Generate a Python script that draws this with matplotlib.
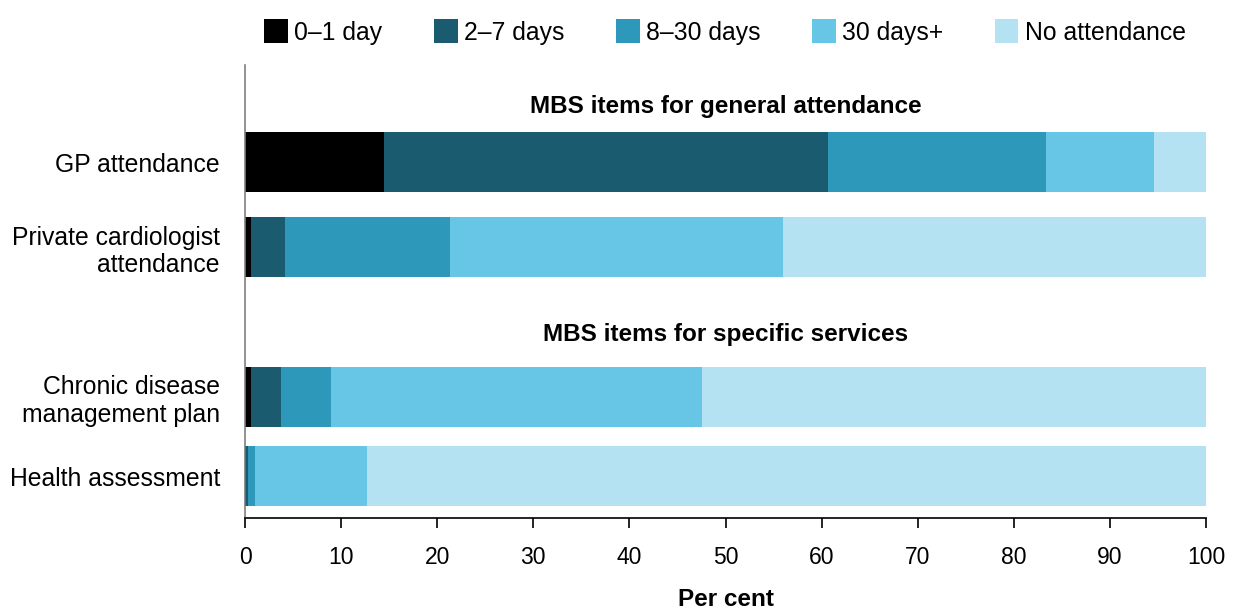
import matplotlib
matplotlib.use("Agg")
import matplotlib.pyplot as plt
from matplotlib.patches import Patch

plt.rcParams['font.family'] = ['Liberation Sans', 'DejaVu Sans']

categories = ["GP attendance", "Private cardiologist\nattendance",
              "Chronic disease\nmanagement plan", "Health assessment"]
series_names = ["0\u20131 day", "2\u20137 days", "8\u201330 days", "30 days+", "No attendance"]
d0_1 = [14.5, 0.6, 0.6, 0.1]
d2_7 = [46.2, 3.6, 3.1, 0.2]
d8_30 = [22.7, 17.1, 5.3, 0.7]
d30p = [11.2, 34.7, 38.6, 11.7]
none = [5.4, 44.0, 52.4, 87.3]
series = [d0_1, d2_7, d8_30, d30p, none]
colors = ["#000000", "#1A5B70", "#2E98BA", "#67C5E5", "#B5E2F2"]
headers = ["MBS items for general attendance", "MBS items for specific services"]

fig = plt.figure(figsize=(12.39, 6.12), dpi=100)
ax = fig.add_axes([245/1239, 1-518/612, (1206-245)/1239, (518-65)/612])

ypos = [162, 247, 397, 476]
header_y = [106, 334]
left = [0]*len(categories)
for vals, col, name in zip(series, colors, series_names):
    ax.barh(ypos, vals, left=left, height=60, color=col, label=name)
    left = [l+v for l, v in zip(left, vals)]

for h, y in zip(headers, header_y):
    ax.text(50, y, h, ha='center', va='center', fontsize=17.5, fontweight='bold')

ax.set_ylim(518, 65)
ax.set_xlim(0, 100)
ax.set_xticks(range(0, 101, 10))
ax.set_yticks(ypos)
ax.set_yticklabels(categories, fontsize=17.8, ha='right', multialignment='right')
ax.tick_params(axis='y', length=0, pad=18)
ax.tick_params(axis='x', length=7, width=1.2, labelsize=16.5, pad=13)
for s in ['top', 'right']:
    ax.spines[s].set_visible(False)
ax.spines['left'].set_color('#7f7f7f')
ax.spines['left'].set_linewidth(1.2)
ax.spines['bottom'].set_linewidth(1.2)
ax.set_xlabel("Per cent", fontsize=17.5, fontweight='bold', labelpad=14)

handles = [Patch(facecolor=c, label=n) for c, n in zip(colors, series_names)]
fig.legend(handles=handles, loc='center', bbox_to_anchor=(725/1239, 1-32/612), ncol=5,
           frameon=False, fontsize=17.8, handlelength=0.95, handleheight=1.1,
           handletextpad=0.25, columnspacing=2.1)

fig.savefig("out.png", dpi=100)
